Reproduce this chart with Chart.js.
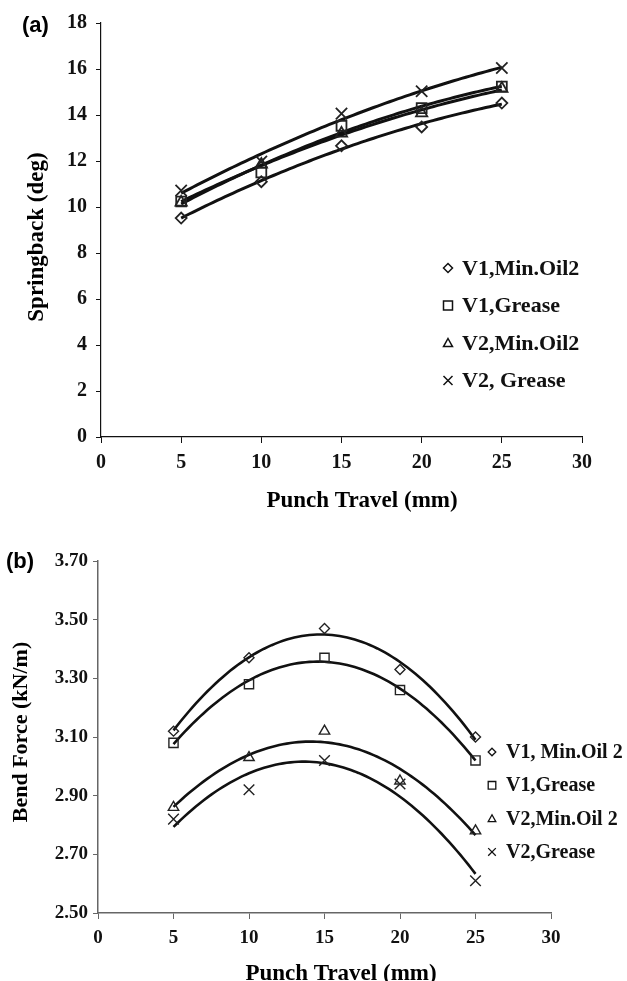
<!DOCTYPE html>
<html><head><meta charset="utf-8">
<script src="https://cdn.jsdelivr.net/npm/chart.js@4.4.1/dist/chart.umd.min.js"></script>
<style>
html,body{margin:0;padding:0;background:#fff;width:627px;height:981px;overflow:hidden}
#ca{position:absolute;left:0;top:0}
#cb{position:absolute;left:0;top:520px}
</style></head><body>
<canvas id="ca" width="627" height="520"></canvas>
<canvas id="cb" width="627" height="461"></canvas>
<script>
// ---------- data ----------
const travel = [5, 10, 15, 20, 25];
const travelTicks = [0, 5, 10, 15, 20, 25, 30];
const springTicks = [0, 2, 4, 6, 8, 10, 12, 14, 16, 18];
const forceTicks = [2.50, 2.70, 2.90, 3.10, 3.30, 3.50, 3.70];

const springLabels = ['V1,Min.Oil2', 'V1,Grease', 'V2,Min.Oil2', 'V2, Grease'];
const springV1MinOil2 = [9.52, 11.10, 12.66, 13.48, 14.52];
const springV1Grease  = [10.24, 11.50, 13.53, 14.30, 15.24];
const springV2MinOil2 = [10.20, 11.85, 13.20, 14.08, 15.15];
const springV2Grease  = [10.72, 11.98, 14.06, 15.03, 16.04];

const forceLabels = ['V1, Min.Oil 2', 'V1,Grease', 'V2,Min.Oil 2', 'V2,Grease'];
const forceV1MinOil2 = [3.12, 3.37, 3.47, 3.33, 3.10];
const forceV1Grease  = [3.08, 3.28, 3.37, 3.26, 3.02];
const forceV2MinOil2 = [2.86, 3.03, 3.12, 2.95, 2.78];
const forceV2Grease  = [2.82, 2.92, 3.02, 2.94, 2.61];

const markerStyles = ['rectRot', 'rect', 'triangle', 'crossRot'];

// ---------- helpers ----------
function quadFit(xs, ys) {
  let n = xs.length, s1 = 0, s2 = 0, s3 = 0, s4 = 0, t0 = 0, t1 = 0, t2 = 0;
  for (let i = 0; i < n; i++) {
    const x = xs[i], y = ys[i];
    s1 += x; s2 += x * x; s3 += x * x * x; s4 += x * x * x * x;
    t0 += y; t1 += x * y; t2 += x * x * y;
  }
  const M = [[n, s1, s2], [s1, s2, s3], [s2, s3, s4]], R = [t0, t1, t2];
  const det = m => m[0][0]*(m[1][1]*m[2][2]-m[1][2]*m[2][1]) - m[0][1]*(m[1][0]*m[2][2]-m[1][2]*m[2][0]) + m[0][2]*(m[1][0]*m[2][1]-m[1][1]*m[2][0]);
  const D = det(M);
  const res = [];
  for (let k = 0; k < 3; k++) {
    const Mk = M.map((row, i) => row.map((v, j) => j === k ? R[i] : v));
    res.push(det(Mk) / D);
  }
  return res;
}
function trendPoints(xs, ys) {
  const [a, b, c] = quadFit(xs, ys);
  const pts = [];
  for (let x = xs[0]; x <= xs[xs.length - 1] + 1e-9; x += 0.25) pts.push({x: x, y: a + b * x + c * x * x});
  return pts;
}
function drawMarker(ctx, style, x, y, r) {
  ctx.beginPath();
  if (style === 'rectRot') {
    ctx.moveTo(x, y - r); ctx.lineTo(x + r, y); ctx.lineTo(x, y + r); ctx.lineTo(x - r, y); ctx.closePath();
  } else if (style === 'rect') {
    ctx.rect(x - r, y - r, 2 * r, 2 * r);
  } else if (style === 'triangle') {
    ctx.moveTo(x, y - r); ctx.lineTo(x + r, y + r * 0.8); ctx.lineTo(x - r, y + r * 0.8); ctx.closePath();
  } else {
    ctx.moveTo(x - r, y - r); ctx.lineTo(x + r, y + r); ctx.moveTo(x + r, y - r); ctx.lineTo(x - r, y + r);
  }
  ctx.stroke();
}

const textPlugin = {
  id: 'texts',
  afterDraw(chart, args, opts) {
    const ctx = chart.ctx;
    (opts.items || []).forEach(it => {
      ctx.save();
      ctx.font = it.font; ctx.fillStyle = '#000';
      ctx.textAlign = it.align || 'center'; ctx.textBaseline = 'middle';
      ctx.translate(it.x, it.y); if (it.rot) ctx.rotate(it.rot);
      ctx.fillText(it.text, 0, 0);
      ctx.restore();
    });
    const lg = opts.legend;
    if (lg) {
      lg.labels.forEach((t, i) => {
        const y = lg.y0 + i * lg.dy;
        ctx.save();
        ctx.strokeStyle = '#111'; ctx.lineWidth = lg.lw;
        drawMarker(ctx, markerStyles[i], lg.mx, y, lg.mr);
        ctx.fillStyle = '#111'; ctx.font = lg.font; ctx.textAlign = 'left'; ctx.textBaseline = 'middle';
        ctx.fillText(t, lg.tx, y + 1);
        ctx.restore();
      });
    }
  }
};

function buildDatasets(series, radii, bw, lw) {
  const ds = [];
  series.forEach(s => ds.push({
    data: trendPoints(travel, s), showLine: true, pointRadius: 0, borderColor: '#111',
    borderWidth: lw, fill: false, tension: 0, order: 2
  }));
  series.forEach((s, i) => ds.push({
    data: travel.map((x, k) => ({x: x, y: s[k]})), showLine: false,
    pointStyle: markerStyles[i], pointRadius: radii[i], pointBorderWidth: bw,
    pointBorderColor: '#222', pointBackgroundColor: 'rgba(0,0,0,0)', order: 1
  }));
  return ds;
}

function makeChart(id, o) {
  return new Chart(document.getElementById(id), {
    type: 'scatter',
    data: {datasets: buildDatasets(o.series, o.radii, o.bw, o.lw)},
    plugins: [textPlugin],
    options: {
      responsive: false, animation: false, events: [],
      layout: {padding: o.padding},
      plugins: {legend: {display: false}, tooltip: {enabled: false}, texts: o.texts},
      scales: {
        x: {
          type: 'linear', min: 0, max: 30,
          afterBuildTicks: s => { s.ticks = travelTicks.map(v => ({value: v})); },
          afterFit: s => { s.height = o.xh; },
          grid: {drawOnChartArea: false, drawTicks: true, tickLength: 6, color: o.axisColor, lineWidth: 1},
          border: {display: true, color: o.axisColor, width: o.axisW},
          ticks: {color: '#111', padding: o.xpad, maxRotation: 0, font: {family: 'Liberation Serif', weight: 'bold', size: o.tickSize}}
        },
        y: {
          type: 'linear', min: o.yTicks[0], max: o.yTicks[o.yTicks.length - 1],
          afterBuildTicks: s => { s.ticks = o.yTicks.map(v => ({value: v})); },
          afterFit: s => { s.width = o.yw; },
          grid: {drawOnChartArea: false, drawTicks: true, tickLength: 5, color: o.axisColor, lineWidth: 1},
          border: {display: true, color: o.axisColor, width: o.axisW},
          ticks: {color: '#111', padding: o.ypad, font: {family: 'Liberation Serif', weight: 'bold', size: o.tickSize},
                  callback: v => o.fmt(v)}
        }
      }
    }
  });
}

// chart (a)
makeChart('ca', {
  series: [springV1MinOil2, springV1Grease, springV2MinOil2, springV2Grease],
  radii: [5.5, 7, 6.5, 8], bw: 1.8, lw: 3,
  padding: {left: 0, top: 23, right: 45, bottom: 0},
  xh: 83, yw: 101, xpad: 8, ypad: 9, tickSize: 20,
  axisColor: '#111', axisW: 1.2,
  yTicks: springTicks, fmt: v => String(v),
  texts: {
    items: [
      {text: '(a)', x: 22, y: 26, align: 'left', font: 'bold 22px "Liberation Sans"'},
      {text: 'Punch Travel (mm)', x: 362, y: 501, font: 'bold 23px "Liberation Serif"'},
      {text: 'Springback (deg)', x: 37, y: 237, rot: -Math.PI / 2, font: 'bold 23px "Liberation Serif"'}
    ],
    legend: {labels: springLabels, mx: 448, tx: 462, y0: 268, dy: 37.5, mr: 4.5, lw: 1.5, font: 'bold 22px "Liberation Serif"'}
  }
});

// chart (b)
makeChart('cb', {
  series: [forceV1MinOil2, forceV1Grease, forceV2MinOil2, forceV2Grease],
  radii: [5, 6.5, 6, 7.5], bw: 1.4, lw: 2.6,
  padding: {left: 0, top: 41, right: 76, bottom: 0},
  xh: 68, yw: 98, xpad: 8, ypad: 5, tickSize: 19,
  axisColor: '#666', axisW: 1.5,
  yTicks: forceTicks, fmt: v => v.toFixed(2),
  texts: {
    items: [
      {text: '(b)', x: 6, y: 42, align: 'left', font: 'bold 22px "Liberation Sans"'},
      {text: 'Punch Travel (mm)', x: 341, y: 454, font: 'bold 23px "Liberation Serif"'},
      {text: 'Bend Force (kN/m)', x: 21, y: 212, rot: -Math.PI / 2, font: 'bold 22px "Liberation Serif"'}
    ],
    legend: {labels: forceLabels, mx: 492, tx: 506, y0: 232, dy: 33.3, mr: 3.8, lw: 1.3, font: 'bold 20px "Liberation Serif"'}
  }
});
</script>
</body></html>
